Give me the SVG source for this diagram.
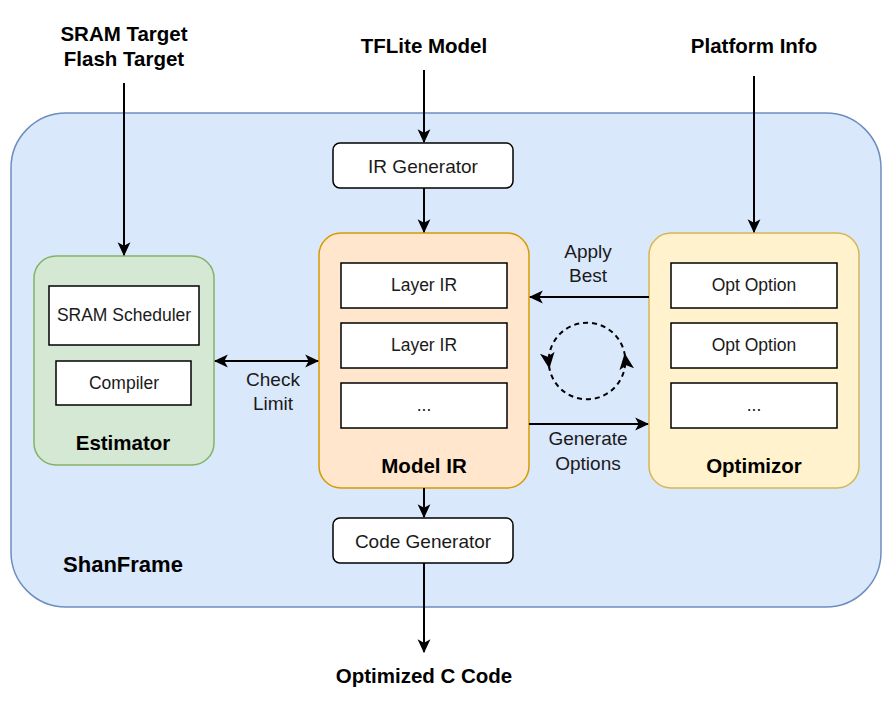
<svg xmlns="http://www.w3.org/2000/svg" width="890" height="705" viewBox="0 0 890 705">
<defs>
<marker id="arr" markerUnits="userSpaceOnUse" markerWidth="14" markerHeight="14" viewBox="0 0 12 12" refX="11" refY="6" orient="auto-start-reverse">
<path d="M0,0.5 L12,6 L0,11.5 L3,6 z" fill="#000"/>
</marker>
<marker id="arrc" markerUnits="userSpaceOnUse" markerWidth="16" markerHeight="16" viewBox="0 0 12 12" refX="10" refY="6" orient="auto">
<path d="M0,0.5 L12,6 L0,11.5 L3,6 z" fill="#000"/>
</marker>
<style>
text{font-family:"Liberation Sans",Arial,sans-serif;text-anchor:middle;fill:#1a1a1a}
.b{font-weight:bold;fill:#000;font-size:20.5px}
.n{font-size:19px}
.s{font-size:17.5px}
.box{fill:#fff;stroke:#000;stroke-width:1.5}
.ln{fill:none;stroke:#000;stroke-width:2}
</style>
</defs>
<rect width="890" height="705" fill="#fff"/>
<g id="shanframe">
<rect x="11" y="113" width="870" height="494" rx="55" fill="#dae8fc" stroke="#6c8ebf" stroke-width="1.5"/>
<text class="b" x="123" y="572" style="font-size:22px">ShanFrame</text>
</g>
<g id="estimator">
<rect x="34" y="256" width="180" height="209" rx="22" fill="#d5e8d4" stroke="#82b366" stroke-width="1.5"/>
<rect class="box" x="49" y="286" width="150" height="59"/>
<text class="s" x="124" y="321">SRAM Scheduler</text>
<rect class="box" x="56" y="361" width="135" height="44"/>
<text class="s" x="124" y="389">Compiler</text>
<text class="b" x="123" y="450">Estimator</text>
</g>
<g id="modelir">
<rect x="319" y="233" width="210" height="255" rx="22" fill="#ffe6cc" stroke="#d79b00" stroke-width="1.5"/>
<rect class="box" x="341" y="263" width="166" height="45"/>
<text class="s" x="424" y="291">Layer IR</text>
<rect class="box" x="341" y="323" width="166" height="45"/>
<text class="s" x="424" y="351">Layer IR</text>
<rect class="box" x="341" y="383" width="166" height="45"/>
<text class="s" x="424" y="411">...</text>
<text class="b" x="424" y="473">Model IR</text>
</g>
<g id="optimizor">
<rect x="649" y="233" width="210" height="255" rx="22" fill="#fff2cc" stroke="#d6b656" stroke-width="1.5"/>
<rect class="box" x="671" y="263" width="166" height="45"/>
<text class="s" x="754" y="291">Opt Option</text>
<rect class="box" x="671" y="323" width="166" height="45"/>
<text class="s" x="754" y="351">Opt Option</text>
<rect class="box" x="671" y="383" width="166" height="45"/>
<text class="s" x="754" y="411">...</text>
<text class="b" x="754" y="473">Optimizor</text>
</g>
<g id="irgen">
<rect class="box" x="333" y="143" width="180" height="45" rx="7"/>
<text class="n" x="423" y="173">IR Generator</text>
</g>
<g id="codegen">
<rect class="box" x="333" y="518" width="180" height="45" rx="7"/>
<text class="n" x="423" y="548">Code Generator</text>
</g>
<g id="inputs">
<text class="b" x="124" y="41">SRAM Target</text>
<text class="b" x="124" y="66">Flash Target</text>
<text class="b" x="424" y="53">TFLite Model</text>
<text class="b" x="754" y="53">Platform Info</text>
<text class="b" x="424" y="683">Optimized C Code</text>
</g>
<g id="connectors">
<line class="ln" x1="124" y1="83" x2="124" y2="255" marker-end="url(#arr)"/>
<line class="ln" x1="424" y1="70" x2="424" y2="142" marker-end="url(#arr)"/>
<line class="ln" x1="754" y1="76" x2="754" y2="232" marker-end="url(#arr)"/>
<line class="ln" x1="424" y1="188" x2="424" y2="232" marker-end="url(#arr)"/>
<line class="ln" x1="424" y1="488" x2="424" y2="517" marker-end="url(#arr)"/>
<line class="ln" x1="424" y1="563" x2="424" y2="652" marker-end="url(#arr)"/>
<line class="ln" x1="215" y1="361" x2="318" y2="361" marker-start="url(#arr)" marker-end="url(#arr)"/>
<line class="ln" x1="649" y1="297" x2="530" y2="297" marker-end="url(#arr)" stroke="#333"/>
<line class="ln" x1="529" y1="424" x2="648" y2="424" marker-end="url(#arr)"/>
<path class="ln" d="M625,356 A38,38 0 0,0 549,366" stroke-dasharray="5,4" marker-end="url(#arrc)"/>
<path class="ln" d="M549,366 A38,38 0 0,0 625,356" stroke-dasharray="5,4" marker-end="url(#arrc)"/>
<text class="n" x="273" y="386">Check</text>
<text class="n" x="273" y="410">Limit</text>
<text class="n" x="588" y="258">Apply</text>
<text class="n" x="588" y="282">Best</text>
<text class="n" x="588" y="445">Generate</text>
<text class="n" x="588" y="470">Options</text>
</g>
</svg>
